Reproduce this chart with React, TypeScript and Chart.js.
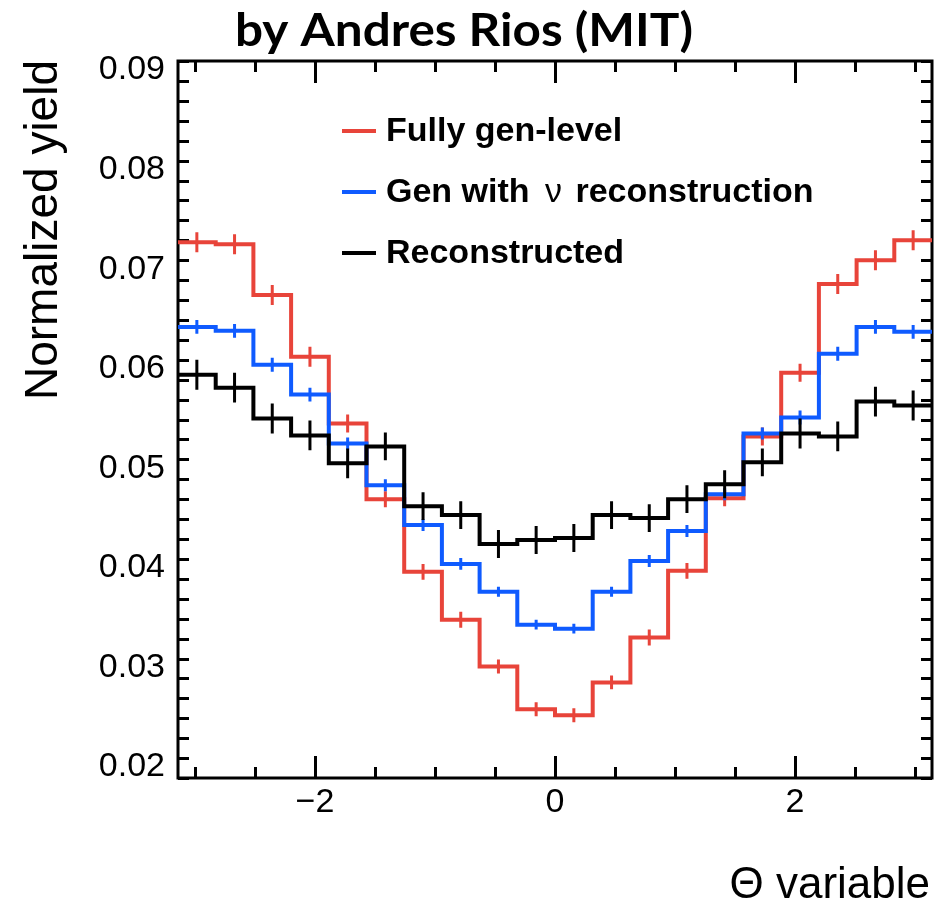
import React, { useEffect, useRef } from 'react';
import { Chart, registerables } from 'chart.js';

Chart.register(...registerables);

// Bin edges of the Θ histogram: 20 equal bins over [-π, π]
const binEdges = [
  -3.1416, -2.8274, -2.5133, -2.1991, -1.885, -1.5708, -1.2566, -0.9425, -0.6283, -0.3142,
  0, 0.3142, 0.6283, 0.9425, 1.2566, 1.5708, 1.885, 2.1991, 2.5133, 2.8274, 3.1416,
];

// Normalized yield per bin
const fullyGenLevel = [
  0.0724, 0.0722, 0.0671, 0.0609, 0.0542, 0.0466, 0.0393, 0.0345, 0.0298, 0.0255,
  0.0249, 0.0282, 0.0327, 0.0394, 0.0467, 0.0529, 0.0593, 0.0682, 0.0706, 0.0726,
];
const genWithNuReco = [
  0.0639, 0.0635, 0.0601, 0.0571, 0.0522, 0.048, 0.044, 0.0401, 0.0373, 0.034,
  0.0336, 0.0373, 0.0404, 0.0434, 0.0471, 0.0532, 0.0548, 0.0612, 0.0639, 0.0634,
];
const reconstructed = [
  0.0591, 0.0578, 0.0547, 0.053, 0.0502, 0.0519, 0.0459, 0.045, 0.0421, 0.0425,
  0.0427, 0.045, 0.0447, 0.0466, 0.0481, 0.0503, 0.0532, 0.0529, 0.0564, 0.056,
];

// Statistical uncertainty per bin
const fullyGenLevelErr = [
  0.001, 0.001, 0.001, 0.001, 0.0009, 0.0008, 0.0008, 0.0008, 0.0007, 0.0007,
  0.0007, 0.0007, 0.0008, 0.0008, 0.0008, 0.0009, 0.0009, 0.001, 0.001, 0.001,
];
const genWithNuRecoErr = [
  0.0007, 0.0007, 0.0007, 0.0007, 0.0006, 0.0006, 0.0006, 0.0006, 0.0005, 0.0005,
  0.0005, 0.0005, 0.0006, 0.0006, 0.0006, 0.0006, 0.0007, 0.0007, 0.0007, 0.0007,
];
const reconstructedErr = [
  0.0015, 0.0015, 0.0015, 0.0015, 0.0015, 0.0014, 0.0014, 0.0014, 0.0014, 0.0014,
  0.0014, 0.0014, 0.0014, 0.0014, 0.0014, 0.0014, 0.0015, 0.0015, 0.0015, 0.0015,
];

const seriesLabels = ['Fully gen-level', 'Gen with ν reconstruction', 'Reconstructed'];
const seriesColors = ['#e8443a', '#0f5bff', '#000000'];

const xMajorTicks = [-2, 0, 2];
const xTickLabels = ['\u22122', '0', '2'];
const yMajorTicks = [0.02, 0.03, 0.04, 0.05, 0.06, 0.07, 0.08, 0.09];
const yTickLabels = ['0.02', '0.03', '0.04', '0.05', '0.06', '0.07', '0.08', '0.09'];

const chartTitle = 'by Andres Rios (MIT)';
const xAxisTitle = 'Θ variable';
const yAxisTitle = 'Normalized yield';

const xMin = -Math.PI;
const xMax = Math.PI;
const yMin = 0.0186;
const yMax = 0.0906;

const SANS = '"Liberation Sans", Arial, sans-serif';

const seriesValues = [fullyGenLevel, genWithNuReco, reconstructed];
const seriesErrors = [fullyGenLevelErr, genWithNuRecoErr, reconstructedErr];

// Histogram outline as step points: drop from the axis floor at both ends
function stepPoints(values: number[]) {
  const last = binEdges.length - 1;
  const pts: { x: number; y: number }[] = [{ x: binEdges[0], y: yMin }];
  values.forEach((v, i) => pts.push({ x: binEdges[i], y: v }));
  pts.push({ x: binEdges[last], y: values[values.length - 1] });
  pts.push({ x: binEdges[last], y: yMin });
  return pts;
}

const isMajor = (v: number, majors: number[]) => majors.findIndex((m) => Math.abs(m - v) < 1e-9);

// Frame with inward ticks on all four sides, plus tick labels
const framePlugin = {
  id: 'frame',
  beforeDatasetsDraw(chart: any) {
    const { ctx, chartArea } = chart;
    const { left, right, top, bottom } = chartArea;
    const xs = chart.scales.x;
    const ys = chart.scales.y;
    ctx.save();
    ctx.strokeStyle = '#000';
    ctx.lineWidth = 3;
    ctx.lineCap = 'butt';
    ctx.strokeRect(left, top, right - left, bottom - top);

    ctx.beginPath();
    xs.ticks.forEach((t: any) => {
      const px = Math.round(xs.getPixelForValue(t.value)) + 0.5;
      const len = isMajor(t.value, xMajorTicks) >= 0 ? 22 : 11;
      ctx.moveTo(px, bottom);
      ctx.lineTo(px, bottom - len);
      ctx.moveTo(px, top);
      ctx.lineTo(px, top + len);
    });
    ys.ticks.forEach((t: any) => {
      const py = Math.round(ys.getPixelForValue(t.value)) + 0.5;
      const len = isMajor(t.value, yMajorTicks) >= 0 ? 22 : 11;
      ctx.moveTo(left, py);
      ctx.lineTo(left + len, py);
      ctx.moveTo(right, py);
      ctx.lineTo(right - len, py);
    });
    ctx.stroke();

    ctx.fillStyle = '#000';
    ctx.font = `34px ${SANS}`;
    ctx.textAlign = 'center';
    ctx.textBaseline = 'top';
    xMajorTicks.forEach((v, i) => {
      ctx.fillText(xTickLabels[i], xs.getPixelForValue(v), bottom + 8);
    });
    ctx.textAlign = 'right';
    ctx.textBaseline = 'middle';
    yMajorTicks.forEach((v, i) => {
      ctx.fillText(yTickLabels[i], left - 13, ys.getPixelForValue(v) + 3);
    });
    ctx.restore();
  },
};

// Vertical error bars at bin centres, drawn with each histogram
const errorBarPlugin = {
  id: 'errorBars',
  afterDatasetDraw(chart: any, args: any) {
    const idx = args.index;
    const values = seriesValues[idx];
    const errs = seriesErrors[idx];
    if (!values) return;
    const { ctx, chartArea } = chart;
    const xs = chart.scales.x;
    const ys = chart.scales.y;
    ctx.save();
    ctx.beginPath();
    ctx.rect(chartArea.left, chartArea.top, chartArea.right - chartArea.left, chartArea.bottom - chartArea.top);
    ctx.clip();
    ctx.strokeStyle = seriesColors[idx];
    ctx.lineWidth = 3;
    ctx.beginPath();
    values.forEach((v, i) => {
      const cx = xs.getPixelForValue((binEdges[i] + binEdges[i + 1]) / 2);
      ctx.moveTo(cx, ys.getPixelForValue(v - errs[i]));
      ctx.lineTo(cx, ys.getPixelForValue(v + errs[i]));
    });
    ctx.stroke();
    ctx.restore();
  },
};

// Title, axis titles and legend
const textPlugin = {
  id: 'texts',
  afterDraw(chart: any) {
    const { ctx } = chart;
    ctx.save();
    ctx.fillStyle = '#000';

    // title
    ctx.font = 'bold 45px Lato, "Open Sans", sans-serif';
    ctx.textAlign = 'center';
    ctx.textBaseline = 'alphabetic';
    const tw = ctx.measureText(chartTitle).width;
    ctx.save();
    ctx.translate(464, 46);
    ctx.scale(458 / tw, 1);
    ctx.fillText(chartTitle, 0, 0);
    ctx.restore();

    // y axis title
    ctx.save();
    ctx.font = `46px ${SANS}`;
    ctx.translate(57, 60);
    ctx.rotate(-Math.PI / 2);
    ctx.textAlign = 'right';
    ctx.fillText(yAxisTitle, 0, 0);
    ctx.restore();

    // x axis title
    ctx.font = `44px ${SANS}`;
    ctx.textAlign = 'right';
    ctx.fillText(xAxisTitle, 930, 898);

    // legend
    const bold = `bold 34px ${SANS}`;
    const plain = `34px ${SANS}`;
    chart.data.datasets.forEach((ds: any, i: number) => {
      const y = 131 + i * 61;
      ctx.strokeStyle = ds.borderColor;
      ctx.lineWidth = 4;
      ctx.beginPath();
      ctx.moveTo(342, y);
      ctx.lineTo(376, y);
      ctx.stroke();
      ctx.textAlign = 'left';
      ctx.textBaseline = 'middle';
      const parts = String(ds.label).split('ν');
      let x = 386;
      parts.forEach((p: string, k: number) => {
        ctx.font = bold;
        ctx.fillText(p, x, y + 1);
        x += ctx.measureText(p).width;
        if (k < parts.length - 1) {
          ctx.font = plain;
          x += 6;
          ctx.fillText('ν', x, y + 1);
          x += ctx.measureText('ν').width + 4;
        }
      });
    });
    ctx.restore();
  },
};

export default function App() {
  const ref = useRef<HTMLCanvasElement>(null);

  useEffect(() => {
    if (!ref.current) return;
    const chart = new Chart(ref.current, {
      type: 'line',
      data: {
        datasets: seriesValues.map((vals, i) => ({
          label: seriesLabels[i],
          data: stepPoints(vals),
          borderColor: seriesColors[i],
          backgroundColor: seriesColors[i],
          borderWidth: 4,
          pointRadius: 0,
          stepped: 'before' as const,
          fill: false,
          tension: 0,
          borderJoinStyle: 'miter' as const,
          order: seriesValues.length - i,
        })),
      },
      options: {
        animation: false,
        responsive: false,
        maintainAspectRatio: false,
        events: [],
        layout: { padding: { top: 61, right: 10, left: 0, bottom: 0 } },
        plugins: {
          legend: { display: false },
          title: { display: false },
          tooltip: { enabled: false },
        },
        scales: {
          x: {
            type: 'linear',
            min: xMin,
            max: xMax,
            grid: { display: false },
            border: { display: false },
            ticks: { display: false, stepSize: 0.5, autoSkip: false, includeBounds: false },
            afterFit: (s: any) => {
              s.height = 128;
            },
          },
          y: {
            type: 'linear',
            min: yMin,
            max: yMax,
            grid: { display: false },
            border: { display: false },
            ticks: { display: false, stepSize: 0.002, autoSkip: false, includeBounds: false },
            afterFit: (s: any) => {
              s.width = 178;
            },
          },
        },
      } as any,
      plugins: [framePlugin, errorBarPlugin, textPlugin],
    });
    return () => chart.destroy();
  }, []);

  return (
    <div style={{ position: 'absolute', left: 0, top: 0, width: 942, height: 906, background: '#fff' }}>
      <canvas ref={ref} width={942} height={906} style={{ display: 'block', width: 942, height: 906 }} />
    </div>
  );
}
